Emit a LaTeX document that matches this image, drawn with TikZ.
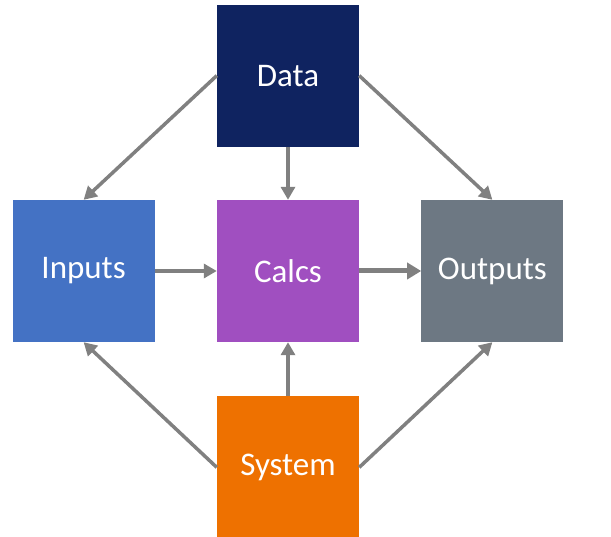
\documentclass[tikz,border=0pt]{standalone}
\usepackage{fontspec}
\setmainfont{Carlito}
\usetikzlibrary{arrows.meta,positioning}

\definecolor{datablue}{HTML}{0F2360}
\definecolor{inblue}{HTML}{4472C4}
\definecolor{calcpurple}{HTML}{A04FC0}
\definecolor{outgray}{HTML}{6D7883}
\definecolor{sysorange}{HTML}{EE7100}
\definecolor{arrgray}{HTML}{808080}

\tikzset{
  box/.style={rectangle,minimum size=142pt,inner sep=0pt,text=white,
    font=\fontsize{33}{40}\selectfont},
  arr/.style={-{Triangle[length=13pt,width=14pt]},line width=3.5pt,draw=arrgray},
  bigarr/.style={-{Triangle[length=14pt,width=16pt]},line width=5pt,draw=arrgray}
}

\begin{document}
\begin{tikzpicture}
      \useasboundingbox (0,0) rectangle (611pt,536pt);

      \node[box,fill=calcpurple] (calcs) at (288pt,265pt) {Calcs};
      \node[box,fill=datablue,above = 53pt of calcs] (data) {Data};
      \node[box,fill=inblue,left = 62pt of calcs] (inputs) {Inputs};
      \node[box,fill=outgray,right = 62pt of calcs] (outputs) {Outputs};
      \node[box,fill=sysorange,below = 54pt of calcs] (system) {System};

      \draw[arr] (data)--(calcs);
      \draw[arr] (system)--(calcs);
      \draw[arr] (inputs)--(calcs);
      \draw[bigarr] (calcs)--(outputs);

      \draw[arr] (data.west)--(inputs.north);
      \draw[arr] (data.east)--(outputs.north);
      \draw[arr] (system.west)--(inputs.south);
      \draw[arr] (system.east)--(outputs.south);

    \end{tikzpicture}
\end{document}
